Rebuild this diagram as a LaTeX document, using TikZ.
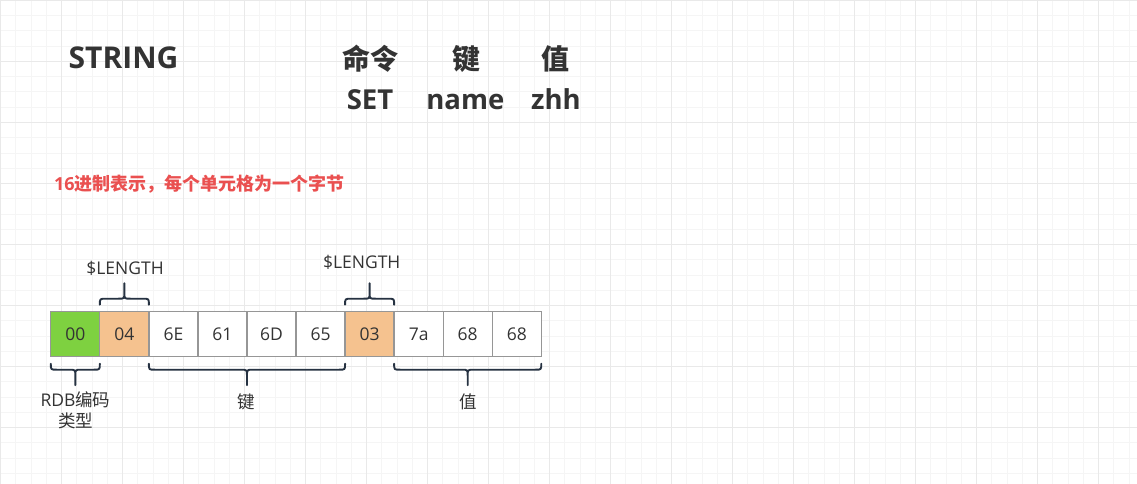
\documentclass[tikz,border=0pt]{standalone}
\usepackage{fontspec}
\setmainfont{Open Sans}
\newfontfamily\cjk{Noto Sans CJK SC}
\usetikzlibrary{positioning,calc}

\definecolor{gridminor}{RGB}{245,245,245}
\definecolor{gridmajor}{RGB}{233,233,233}
\definecolor{txtgray}{RGB}{51,51,51}
\definecolor{cellline}{RGB}{150,150,150}
\definecolor{rdbgreen}{RGB}{126,209,64}
\definecolor{lenorange}{RGB}{245,194,143}
\definecolor{notered}{RGB}{234,80,80}
\definecolor{bracecol}{RGB}{38,50,66}

\tikzset{
  byte/.style={draw=cellline, line width=1.3pt, minimum width=49.05pt, minimum height=45pt,
    inner sep=0pt, outer sep=0pt, text=txtgray, font=\fontsize{17.5}{21}\selectfont},
  lbl/.style={text=txtgray, inner sep=0pt, font=\fontsize{17.5}{21}\selectfont},
  headword/.style={text=txtgray, inner sep=0pt, font=\fontsize{28}{34}\selectfont\bfseries},
  pics/curlybrace/.style={code={
    \draw[bracecol, line width=1.9pt, line cap=round, line join=round]
      (0,0) .. controls (0,6) .. (6,6) -- (#1/2-6,6) .. controls (#1/2,6) .. (#1/2,12) -- (#1/2,21.5)
      (#1/2,12) .. controls (#1/2,6) .. (#1/2+6,6) -- (#1-6,6) .. controls (#1,6) .. (#1,0);
  }}
}

\begin{document}
\begin{tikzpicture}[x=1pt, y=-1pt]

\useasboundingbox (0,0) rectangle (1137,484);
\fill[white] (0,0) rectangle (1137,484);
% background grid
\foreach \i in {0,...,74}
  \draw[gridminor, line width=1pt] (\i*15.25+0.5,0) -- (\i*15.25+0.5,484);
\foreach \j in {0,...,31}
  \draw[gridminor, line width=1pt] (0,\j*15.25+0.5) -- (1137,\j*15.25+0.5);
\foreach \i in {0,...,18}
  \draw[gridmajor, line width=1pt] (\i*61+0.5,0) -- (\i*61+0.5,484);
\foreach \j in {0,...,7}
  \draw[gridmajor, line width=1pt] (0,\j*61+0.5) -- (1137,\j*61+0.5);

% header
\node[headword, anchor=base, font=\fontsize{30}{36}\selectfont\bfseries] (strtype) at (123.5,68.3) {STRING};
\node[headword, anchor=base] (cmdhead) at (370.8,69.5) {\cjk 命令};
\node[headword, anchor=base] (keyhead) at (466,69.5) {\cjk 键};
\node[headword, anchor=base] (valhead) at (555.5,69.5) {\cjk 值};
\node[headword, anchor=base, font=\fontsize{27.5}{33}\selectfont\bfseries] (cmdword) at (370,110) {SET};
\node[headword, anchor=base, font=\fontsize{27.5}{33}\selectfont\bfseries] (keyword) at (465.3,110) {name};
\node[headword, anchor=base, font=\fontsize{27.5}{33}\selectfont\bfseries] (valword) at (556,110) {zhh};

\node[anchor=base west, inner sep=0pt, text=notered, font=\fontsize{18}{22}\selectfont\bfseries] (hexnote) at (54,190) {16{\cjk 进制表示，每个单元格为一个字节}};

% bytes
\node[byte, fill=rdbgreen] (rdb) at (75.3,334.2) {00};
\node[byte, fill=lenorange, right=0pt of rdb] (lenA) {04};
\node[byte, fill=white, right=0pt of lenA] (keyA) {6E};
\node[byte, fill=white, right=0pt of keyA] (keyB) {61};
\node[byte, fill=white, right=0pt of keyB] (keyC) {6D};
\node[byte, fill=white, right=0pt of keyC] (keyD) {65};
\node[byte, fill=lenorange, right=0pt of keyD] (lenB) {03};
\node[byte, fill=white, right=0pt of lenB] (valA) {7a};
\node[byte, fill=white, right=0pt of valA] (valB) {68};
\node[byte, fill=white, right=0pt of valB] (valC) {68};

% braces
\pic[yscale=-1] at ($(lenA.north west)+(0,-7)$) {curlybrace=49.05};
\pic[yscale=-1] at ($(lenB.north west)+(0,-7)$) {curlybrace=49.05};
\pic at ($(rdb.south west)+(0,7)$) {curlybrace=49.05};
\pic at ($(keyA.south west)+(0,7)$) {curlybrace=196.2};
\pic at ($(valA.south west)+(0,7)$) {curlybrace=147.15};

\node[lbl, anchor=base] (lenAlab) at (125,274) {\$LENGTH};
\node[lbl, anchor=base] (lenBlab) at (361.7,268) {\$LENGTH};
\node[lbl, align=center] (rdblab) at (75.5,410) {RDB{\cjk 编码}\\{\cjk 类型}};
\node[lbl] (keylab) at (246.7,401.7) {\cjk 键};
\node[lbl] (vallab) at (468.5,401.7) {\cjk 值};

\end{tikzpicture}
\end{document}
